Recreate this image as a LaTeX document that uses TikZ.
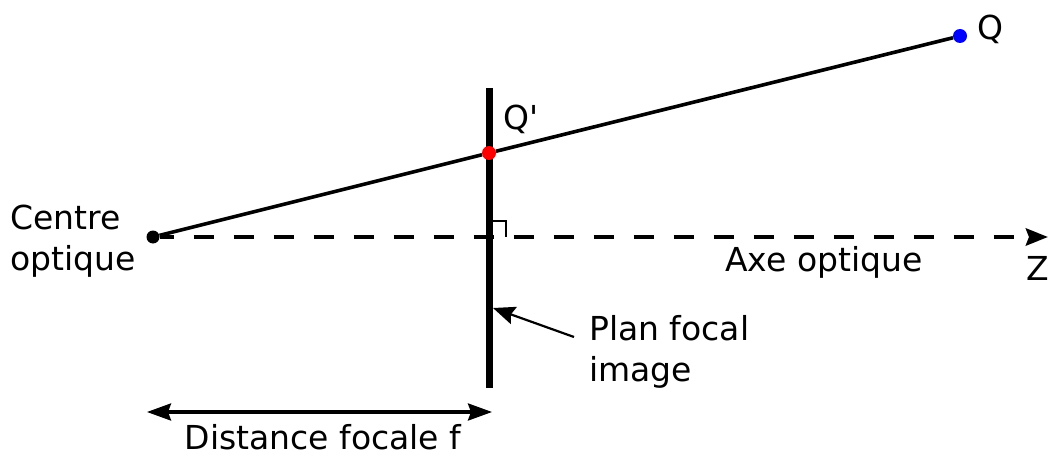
\documentclass[tikz,border=0pt]{standalone}
\usepackage{fontspec}
\setmainfont{DejaVu Sans}[Ligatures=TeXOff]
\usepackage{xcolor}
\definecolor{imageRed}{HTML}{FF0000}
\definecolor{objectBlue}{HTML}{0000FF}
\usetikzlibrary{arrows.meta}

\begin{document}
\begin{tikzpicture}[x=1pt, y=-1pt, font=\fontsize{33}{41}\selectfont]
  \useasboundingbox (0,0) rectangle (1050,468);
  \coordinate (P1) at (489,88);
  \coordinate (P2) at (489,388);
  \coordinate (Z) at (1048,237);
  \draw[line width=7pt] (P1) -- (P2);
  \node[circle, fill=black, inner sep=0pt, minimum size=13pt] (O) at (153,237) {};
  \node[circle, fill=imageRed, inner sep=0pt, minimum size=14pt] (Qp) at (489,153) {};
  \node[circle, fill=objectBlue, inner sep=0pt, minimum size=14pt] (Q) at (960,36) {};
  \draw[line width=4.5pt, dash pattern=on 20pt off 20pt, dash phase=6pt, -{Stealth[length=22pt, width=17pt, inset=3pt]}] (O) -- (Z);
  \draw[line width=3.6pt] (O) -- (Qp) -- (Q);
  \draw[line width=1.6pt] (492,221) -- (506,221) -- (506,237);
  \node[anchor=north west, align=left, inner sep=0pt] (centre) at (10,205) {Centre\\optique};
  \node[anchor=base west, inner sep=0pt] (labQp) at (503,130) {Q'};
  \node[anchor=base west, inner sep=0pt] (labQ) at (977,40) {Q};
  \node[anchor=base west, inner sep=0pt] (axe) at (725,271) {Axe optique};
  \node[anchor=base west, inner sep=0pt] (labZ) at (1026,280) {Z};
  \node[anchor=north west, align=left, inner sep=0pt] (plan) at (589,315) {Plan focal\\image};
  \coordinate (planTail) at (574,337);
  \coordinate (planTip) at (493,308);
  \draw[line width=2.2pt, -{Stealth[length=22pt, width=18pt, inset=3pt]}] (planTail) -- (planTip);
  \coordinate (fA) at (147,412);
  \coordinate (fB) at (492,412);
  \draw[line width=3.2pt, {Stealth[length=24pt, width=17pt, inset=3pt]}-{Stealth[length=24pt, width=17pt, inset=3pt]}] (fA) -- (fB);
  \node[anchor=base, inner sep=0pt] (dist) at (323,449) {Distance focale f};
\end{tikzpicture}
\end{document}
